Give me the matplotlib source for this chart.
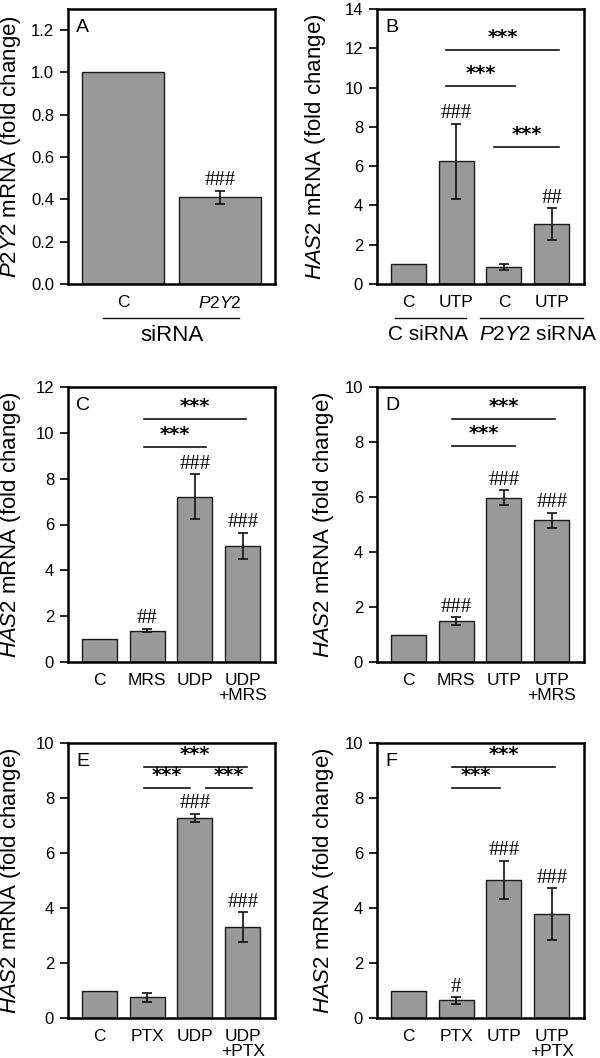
import matplotlib
matplotlib.use('Agg')
import matplotlib.pyplot as plt
import numpy as np

plt.rcParams['font.family'] = ['Liberation Sans', 'DejaVu Sans']
plt.rcParams['mathtext.fontset'] = 'custom'
plt.rcParams['mathtext.rm'] = 'Liberation Sans'
plt.rcParams['mathtext.it'] = 'Liberation Sans:italic'

# ── data ────────────────────────────────────────────────────────────────────
a_labels = ['C', r'$\it{P2Y2}$']
a_means = [1.0, 0.41]
a_err = [0.0, 0.03]
a_marks = ['', '###']

b_labels = ['C', 'UTP', 'C', 'UTP']
b_means = [1.0, 6.25, 0.88, 3.05]
b_err = [0.0, 1.9, 0.15, 0.8]
b_marks = ['', '###', '', '##']

c_labels = ['C', 'MRS', 'UDP', 'UDP\n+MRS']
c_means = [1.0, 1.37, 7.22, 5.08]
c_err = [0.0, 0.08, 0.98, 0.57]
c_marks = ['', '##', '###', '###']

d_labels = ['C', 'MRS', 'UTP', 'UTP\n+MRS']
d_means = [1.0, 1.49, 5.98, 5.15]
d_err = [0.0, 0.14, 0.27, 0.28]
d_marks = ['', '###', '###', '###']

e_labels = ['C', 'PTX', 'UDP', 'UDP\n+PTX']
e_means = [1.0, 0.75, 7.27, 3.30]
e_err = [0.0, 0.17, 0.16, 0.55]
e_marks = ['', '', '###', '###']

f_labels = ['C', 'PTX', 'UTP', 'UTP\n+PTX']
f_means = [1.0, 0.64, 5.03, 3.78]
f_err = [0.0, 0.12, 0.69, 0.94]
f_marks = ['', '#', '###', '###']

# significance brackets: (x start, x end, height)
b_sig = [(0.79, 3.15, 11.9), (0.80, 2.23, 10.1), (1.80, 3.15, 7.0)]
c_sig = [(0.93, 3.07, 10.6), (0.93, 2.22, 9.4)]
d_sig = [(0.92, 3.07, 8.85), (0.92, 2.22, 7.85)]
e_sig = [(0.93, 3.08, 9.13), (0.93, 1.89, 8.36), (2.22, 3.20, 8.36)]
f_sig = [(0.92, 3.07, 9.13), (0.92, 1.91, 8.36)]

BAR = '#999999'
FS = 12       # tick labels
FS_LAB = 16   # axis labels / group labels

W, H = 600, 1058
fig = plt.figure(figsize=(W / 100, H / 100), dpi=100)


def px_axes(left, top, right, bottom):
    return fig.add_axes([left / W, 1 - bottom / H, (right - left) / W, (bottom - top) / H])


def panel(ax, labels, means, err, marks, ymax, yticks, letter, ylabel, sig=(),
          width=0.73, xlim=(-0.65, 3.67), label_x=-0.23, fmt='%d'):
    x = np.arange(len(means))
    ax.bar(x, means, width=width, color=BAR, edgecolor='#1a1a1a', linewidth=1.0, zorder=2)
    ex = [i for i in x if err[i] > 0]
    ax.errorbar(ex, [means[i] for i in ex], yerr=[err[i] for i in ex], fmt='none',
                ecolor='#111111', elinewidth=1.2, capsize=3.5, capthick=1.2, zorder=3)
    for i, m in enumerate(marks):
        if m:
            ax.annotate(m, (i, means[i] + err[i]), xytext=(0, 4), textcoords='offset points',
                        ha='center', va='baseline', fontsize=15, family='Liberation Serif')
    for x0, x1, y in sig:
        ax.plot([x0, x1], [y, y], color='#111111', lw=1.2, zorder=3, clip_on=False)
        ax.annotate('***', ((x0 + x1) / 2, y), xytext=(0, 2), textcoords='offset points',
                    ha='center', va='bottom', fontsize=14, fontweight='bold',
                    family='DejaVu Sans')
    ax.set_ylim(0, ymax)
    ax.set_xlim(*xlim)
    ax.set_yticks(yticks)
    ax.yaxis.set_major_formatter(matplotlib.ticker.FormatStrFormatter(fmt))
    ax.set_xticks(x)
    ax.set_xticklabels(labels, fontsize=FS + 0.5, linespacing=0.95, va='top')
    ax.tick_params(axis='x', length=0, pad=8)
    ax.tick_params(axis='y', direction='out', length=6, width=1.2, labelsize=FS, pad=4)
    for s in ax.spines.values():
        s.set_linewidth(1.8)
    ax.set_ylabel(ylabel, fontsize=FS_LAB)
    ax.yaxis.set_label_coords(label_x, 0.5)
    ax.text(0.04, 0.965, letter, transform=ax.transAxes, ha='left', va='top', fontsize=14)


p2y2_lab = r'$\it{P2Y2}$ mRNA (fold change)'
has2_lab = r'$\it{HAS2}$ mRNA (fold change)'

# Panel A
axA = px_axes(68, 9, 275, 284)
panel(axA, a_labels, a_means, a_err, a_marks, 1.3, np.arange(0, 1.21, 0.2), 'A', p2y2_lab,
      width=0.85, xlim=(-0.57, 1.57), label_x=-0.217, fmt='%.1f')
axA.plot([-0.21, 1.2], [-0.124, -0.124], color='#111111', lw=1.0, clip_on=False,
         transform=axA.get_xaxis_transform())
axA.text(0.5, -0.15, 'siRNA', transform=axA.get_xaxis_transform(), ha='center', va='top',
         fontsize=FS_LAB)

# Panel B
axB = px_axes(377, 9, 584, 284)
panel(axB, b_labels, b_means, b_err, b_marks, 14, np.arange(0, 15, 2), 'B', has2_lab,
      sig=b_sig, label_x=-0.235)
for x0, x1, txt, xc in [(-0.27, 1.21, 'C siRNA', 0.42), (1.5, 3.65, r'$\it{P2Y2}$ siRNA', 2.70)]:
    axB.plot([x0, x1], [-0.124, -0.124], color='#111111', lw=1.0, clip_on=False,
             transform=axB.get_xaxis_transform())
    axB.text(xc, -0.15, txt, transform=axB.get_xaxis_transform(), ha='center', va='top',
             fontsize=FS_LAB - 1)

# Panels C-F
axC = px_axes(68, 387, 275, 662)
panel(axC, c_labels, c_means, c_err, c_marks, 12, np.arange(0, 13, 2), 'C', has2_lab,
      sig=c_sig, label_x=-0.217)
axD = px_axes(377, 387, 584, 662)
panel(axD, d_labels, d_means, d_err, d_marks, 10, np.arange(0, 11, 2), 'D', has2_lab,
      sig=d_sig, label_x=-0.2)
axE = px_axes(68, 743, 275, 1018)
panel(axE, e_labels, e_means, e_err, e_marks, 10, np.arange(0, 11, 2), 'E', has2_lab,
      sig=e_sig, label_x=-0.217)
axF = px_axes(377, 743, 584, 1018)
panel(axF, f_labels, f_means, f_err, f_marks, 10, np.arange(0, 11, 2), 'F', has2_lab,
      sig=f_sig, label_x=-0.2)

fig.savefig('out.png', dpi=100, facecolor='white')
